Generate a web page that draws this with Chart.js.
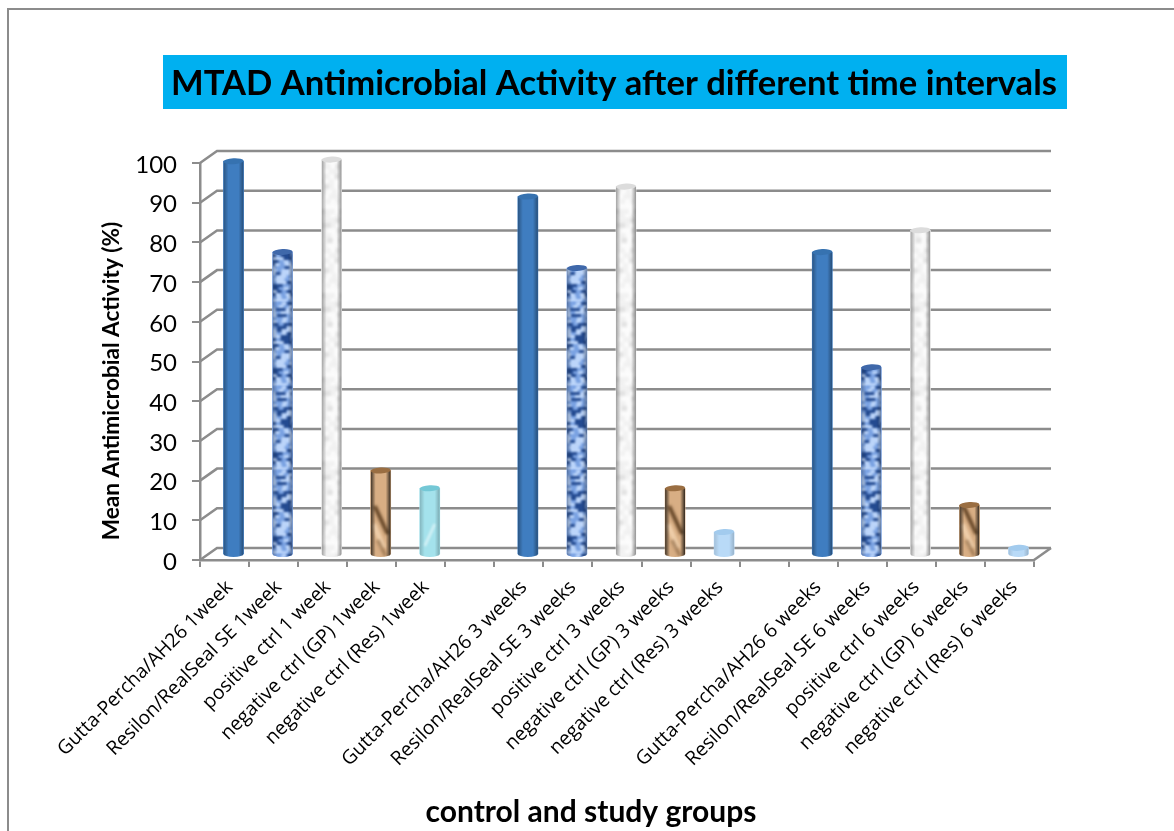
<!DOCTYPE html>
<html>
<head>
<meta charset="utf-8">
<title>MTAD Antimicrobial Activity</title>
<script src="https://cdn.jsdelivr.net/npm/chart.js@4/dist/chart.umd.min.js"></script>
<style>
  html, body { margin: 0; padding: 0; background: #fff; overflow: hidden; }
  canvas { display: block; }
</style>
</head>
<body>
<canvas id="chart" width="1174" height="831"></canvas>
<script>
// data, blanks are the gaps between the time groups
const categories = [
    "Gutta-Percha/AH26 1week", "Resilon/RealSeal SE 1week", "positive ctrl 1 week",
    "negative ctrl (GP) 1week", "negative ctrl (Res) 1week", "",
    "Gutta-Percha/AH26 3 weeks", "Resilon/RealSeal SE 3 weeks", "positive ctrl 3 weeks",
    "negative ctrl (GP) 3 weeks", "negative ctrl (Res) 3 weeks", "",
    "Gutta-Percha/AH26 6 weeks", "Resilon/RealSeal SE 6 weeks", "positive ctrl 6 weeks",
    "negative ctrl (GP) 6 weeks", "negative ctrl (Res) 6 weeks"
];
const activity = [
    99.2, 76.3, 99.6, 21.3, 16.8, null,
    90.3, 72.3, 92.8, 16.8, 5.8, null,
    76.3, 47.3, 81.8, 12.6, 1.8
];
const yTicks = [0, 10, 20, 30, 40, 50, 60, 70, 80, 90, 100];
const chartTitle = "MTAD Antimicrobial Activity after different time intervals";
const yTitle = "Mean Antimicrobial Activity (%)";
const xTitle = "control and study groups";

// look of each bar
const barKinds = [
    "solid", "mottled", "white", "wood", "aqua", null,
    "solid", "mottled", "white", "wood", "pale", null,
    "solid", "mottled", "white", "wood", "pale"
];
const kindStyle = {
    solid:   { base: "#3f7dc0", cap: "#3672b0", edge: 0.32 },
    mottled: { base: "#7fa6e6", cap: "#3f68aa", edge: 0.26 },
    white:   { base: "#f0f0f0", cap: "#dcdcdc", edge: 0.34 },
    wood:    { base: "#d8ae84", cap: "#9a6e42", edge: 0.72 },
    aqua:    { base: "#a4e2ec", cap: "#74c8d6", edge: 0.2 },
    pale:    { base: "#b9daf7", cap: "#a2cbee", edge: 0.12 }
};

const GRID = "#8c8c8c";
const WALL_DX = 17, WALL_DY = -12;   // back wall offset
const BAR_DX = 9, BAR_DY = -5;       // bars stand in the middle of the floor
const CAP_RY = 3;

// fixed pseudo noise, only for the bar textures
function noise(x, y) {
    const s = Math.sin(x * 12.9898 + y * 78.233) * 43758.5453;
    return s - Math.floor(s);
}

function makeTile(w, h, cellW, cellH, palette, blur) {
    const raw = document.createElement("canvas");
    raw.width = w; raw.height = h;
    const r = raw.getContext("2d");
    for (let y = 0; y < h; y += cellH) {
        const shift = Math.floor(noise(3, y + 5) * cellW);
        for (let x = -cellW; x < w; x += cellW) {
            const n = noise(x + 7, y + 1);
            const entry = palette.find(p => n <= p.upTo);
            r.fillStyle = entry.color;
            r.fillRect(x + shift, y, cellW, cellH);
        }
    }
    const c = document.createElement("canvas");
    c.width = w; c.height = h;
    const g = c.getContext("2d");
    g.filter = "blur(" + blur + "px)";
    // draw around the edges too so the blur wraps
    [-w, 0, w].forEach(dx => [-h, 0, h].forEach(dy => g.drawImage(raw, dx, dy)));
    return c;
}

const tiles = {
    mottled: makeTile(20, 84, 5, 3, [
        { upTo: 0.24, color: "#234a90" },
        { upTo: 0.6, color: "#7aa2e2" },
        { upTo: 1, color: "#bcd5fa" }
    ], 1),
    white: makeTile(20, 84, 5, 5, [
        { upTo: 0.25, color: "#e0e0e0" },
        { upTo: 0.7, color: "#f1f1f1" },
        { upTo: 1, color: "#fcfcfc" }
    ], 1.6)
};

function cylinderPath(ctx, x0, x1, top, base) {
    const cx = (x0 + x1) / 2, rx = (x1 - x0) / 2;
    ctx.beginPath();
    ctx.moveTo(x0, top);
    ctx.lineTo(x1, top);
    ctx.lineTo(x1, base);
    ctx.ellipse(cx, base, rx, CAP_RY, 0, 0, Math.PI);
    ctx.lineTo(x0, top);
    ctx.closePath();
}

function paintTexture(ctx, kind, x0, x1, top, base) {
    if (tiles[kind]) {
        const p = ctx.createPattern(tiles[kind], "repeat");
        p.setTransform(new DOMMatrix().translate(x0, base));
        ctx.fillStyle = p;
        ctx.fillRect(x0, top - 1, x1 - x0, base - top + CAP_RY + 1);
    }
    if (kind === "wood") {
        ctx.filter = "blur(1.5px)";
        ctx.strokeStyle = "rgba(80,50,22,0.85)";
        ctx.lineWidth = 4;
        ctx.beginPath();
        ctx.moveTo(x0 + 4, base - 48);
        ctx.lineTo(x0 + 17, base - 20);
        ctx.stroke();
        ctx.strokeStyle = "rgba(245,215,180,0.8)";
        ctx.lineWidth = 5;
        ctx.beginPath();
        ctx.moveTo(x0 + 3, base - 30);
        ctx.lineTo(x0 + 13, base - 6);
        ctx.stroke();
        ctx.strokeStyle = "rgba(120,85,50,0.6)";
        ctx.lineWidth = 3;
        ctx.beginPath();
        ctx.moveTo(x0 + 7, base - 14);
        ctx.lineTo(x0 + 15, base + 2);
        ctx.stroke();
        ctx.filter = "none";
    }
    if (kind === "aqua") {
        ctx.filter = "blur(1px)";
        ctx.strokeStyle = "rgba(255,255,255,0.5)";
        ctx.lineWidth = 3;
        ctx.beginPath();
        ctx.moveTo(x0 + 5, base - 8);
        ctx.lineTo(x0 + 15, base - 30);
        ctx.stroke();
        ctx.filter = "none";
    }
}

const depthPlugin = {
    id: "depth",
    afterLayout(chart) {
        // title block is wider than the plot and a little left of its centre,
        // the plugin squeezes the text to the block width otherwise
        chart.titleBlock.left = 144;
        chart.titleBlock.right = 1084;
    },
    beforeDraw(chart) {
        const ctx = chart.ctx;
        ctx.save();
        // picture frame, open on the right and at the bottom
        ctx.strokeStyle = "#8c8c8c";
        ctx.lineWidth = 2;
        ctx.beginPath();
        ctx.moveTo(8, 831);
        ctx.lineTo(8, 9);
        ctx.lineTo(1174, 9);
        ctx.stroke();
        // title box
        ctx.fillStyle = "#00b0f0";
        ctx.fillRect(163, 55, 904, 54);
        ctx.restore();
    },
    beforeDatasetsDraw(chart) {
        const { ctx, chartArea, scales } = chart;
        ctx.save();
        ctx.strokeStyle = GRID;
        ctx.lineWidth = 2.5;
        yTicks.forEach(v => {
            const y = scales.y.getPixelForValue(v);
            ctx.beginPath();
            ctx.moveTo(chartArea.left, y);
            ctx.lineTo(chartArea.left + WALL_DX, y + WALL_DY);
            ctx.lineTo(chartArea.right + WALL_DX, y + WALL_DY);
            ctx.stroke();
        });
        ctx.beginPath();
        ctx.moveTo(chartArea.right, chartArea.bottom);
        ctx.lineTo(chartArea.right + WALL_DX, chartArea.bottom + WALL_DY);
        ctx.stroke();
        ctx.restore();
        ctx.save();
        ctx.translate(BAR_DX, BAR_DY);
    },
    afterDatasetsDraw(chart) {
        const ctx = chart.ctx;
        chart.getDatasetMeta(0).data.forEach((bar, i) => {
            const kind = barKinds[i];
            if (!kind) return;
            const style = kindStyle[kind];
            const x0 = bar.x - bar.width / 2, x1 = bar.x + bar.width / 2;
            const top = bar.y, base = bar.base;
            const cx = bar.x, rx = bar.width / 2;

            ctx.save();
            cylinderPath(ctx, x0, x1, top, base);
            ctx.fillStyle = style.base;
            ctx.fill();
            ctx.clip();
            paintTexture(ctx, kind, x0, x1, top, base);
            const shade = ctx.createLinearGradient(x0, 0, x1, 0);
            shade.addColorStop(0, "rgba(0,0,0," + style.edge + ")");
            shade.addColorStop(0.25, "rgba(0,0,0,0)");
            shade.addColorStop(0.75, "rgba(0,0,0,0)");
            shade.addColorStop(1, "rgba(0,0,0," + (style.edge + 0.06) + ")");
            ctx.fillStyle = shade;
            ctx.fillRect(x0, top - 1, x1 - x0, base - top + CAP_RY + 2);
            ctx.restore();

            ctx.fillStyle = style.cap;
            ctx.beginPath();
            ctx.ellipse(cx, top, rx, CAP_RY, -0.05, 0, Math.PI * 2);
            ctx.fill();
        });
        ctx.restore();

        // both axis titles sit off the plot centre in the picture, so they are placed by hand
        ctx.save();
        ctx.fillStyle = "#000";
        ctx.textAlign = "center";
        ctx.textBaseline = "middle";
        ctx.font = "bold 30px Lato";
        ctx.fillText(chart.options.scales.x.title.text, 591, 812);
        ctx.translate(112, 381);
        ctx.rotate(-Math.PI / 2);
        ctx.font = "bold 22.6px Lato";
        ctx.fillText(chart.options.scales.y.title.text, 0, 0);
        ctx.restore();
    }
};

new Chart(document.getElementById("chart"), {
    type: "bar",
    data: {
        labels: categories,
        datasets: [{
            label: "Mean Antimicrobial Activity (%)",
            data: activity,
            backgroundColor: barKinds.map(k => k ? kindStyle[k].base : "transparent"),
            borderWidth: 0,
            barThickness: 20,
            clip: false
        }]
    },
    options: {
        responsive: false,
        animation: false,
        layout: { padding: { left: 98, right: 140, top: 0, bottom: 0 } },
        plugins: {
            legend: { display: false },
            tooltip: { enabled: false },
            title: {
                display: true,
                text: chartTitle,
                fullSize: false,
                color: "#000",
                font: { family: "Lato", size: 34.6, weight: "bold", lineHeight: 1.2 },
                padding: { top: 63, bottom: 58.5 }
            }
        },
        scales: {
            x: {
                offset: true,
                afterFit(scale) { scale.height = 271; },
                grid: { drawOnChartArea: false, offset: true, tickLength: 7, color: GRID, lineWidth: 2 },
                border: { color: GRID, width: 2.5 },
                title: { display: false, text: xTitle },
                ticks: {
                    autoSkip: false,
                    minRotation: 45,
                    maxRotation: 45,
                    labelOffset: 5,
                    padding: 9,
                    color: "#000",
                    font: { family: "Open Sans", size: 19.4 }
                }
            },
            y: {
                min: 0,
                max: 100,
                afterFit(scale) { scale.width = 102; },
                afterBuildTicks(scale) { scale.ticks = yTicks.map(v => ({ value: v })); },
                grid: { drawOnChartArea: false, tickLength: 8, color: GRID, lineWidth: 2 },
                border: { color: GRID, width: 2.5 },
                title: { display: false, text: yTitle },
                ticks: {
                    padding: 15,
                    labelOffset: 2,
                    color: "#000",
                    font: { family: "Lato", size: 24 }
                }
            }
        }
    },
    plugins: [depthPlugin]
});
</script>
</body>
</html>
